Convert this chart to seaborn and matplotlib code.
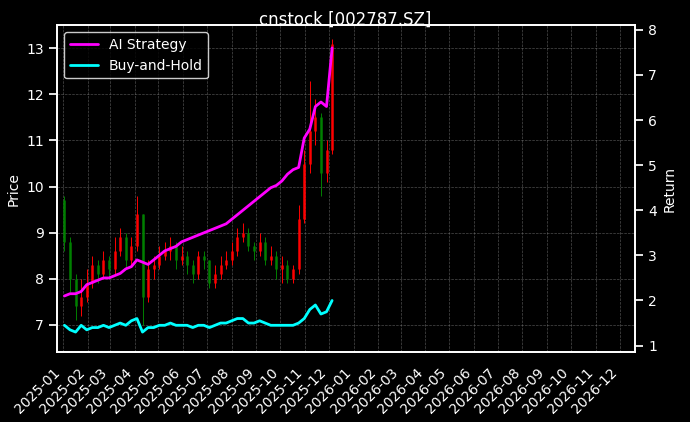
import matplotlib
matplotlib.use("Agg")
import matplotlib.pyplot as plt
import matplotlib.dates as mdates
import seaborn as sns
import pandas as pd

dates = pd.date_range("2025-01-03", periods=49, freq="W-FRI")
close = [8.8, 8.0, 7.4, 7.6, 7.9,
         8.3, 8.1, 8.4, 8.2,
         8.6, 8.9, 8.4, 8.7,
         9.4, 7.6, 8.2, 8.3,
         8.5, 8.6, 8.7, 8.4, 8.5,
         8.3, 8.1, 8.5, 8.4,
         7.9, 8.1, 8.3, 8.4,
         8.6, 8.9, 9.0, 8.7, 8.6,
         8.8, 8.4, 8.5, 8.2,
         8.3, 8.0, 8.2, 9.3, 10.5,
         11.2, 11.5, 10.3, 10.8,
         13.1]
first_open = 9.7
high = [9.8, 8.9, 8.1, 8.0, 8.2,
        8.5, 8.4, 8.6, 8.5,
        8.9, 9.1, 9.0, 8.9,
        9.8, 9.4, 8.4, 8.5,
        8.7, 8.8, 8.9, 8.8, 8.7,
        8.6, 8.4, 8.6, 8.6,
        8.4, 8.3, 8.5, 8.6,
        8.8, 9.1, 9.2, 9.1, 8.8,
        9.0, 8.9, 8.7, 8.6,
        8.5, 8.4, 8.3, 9.6, 10.8,
        12.3, 11.9, 11.6, 11.0,
        13.2]
low = [8.6, 7.7, 7.1, 7.2, 7.5,
       7.8, 7.9, 8.0, 8.0,
       8.1, 8.5, 8.2, 8.3,
       8.6, 7.0, 7.5, 8.0,
       8.2, 8.4, 8.4, 8.2, 8.3,
       8.1, 7.9, 8.0, 8.2,
       7.8, 7.8, 8.0, 8.2,
       8.3, 8.5, 8.8, 8.6, 8.4,
       8.5, 8.3, 8.3, 8.0,
       7.9, 7.9, 7.9, 8.1, 9.2,
       10.3, 10.9, 9.8, 10.1,
       10.7]
strategy = [2.1, 2.15, 2.15, 2.2, 2.35,
            2.4, 2.45, 2.5, 2.5,
            2.55, 2.6, 2.7, 2.75,
            2.9, 2.85, 2.8, 2.9,
            3.0, 3.1, 3.15, 3.2, 3.3,
            3.35, 3.4, 3.45, 3.5,
            3.55, 3.6, 3.65, 3.7,
            3.8, 3.9, 4.0, 4.1, 4.2,
            4.3, 4.4, 4.5, 4.55,
            4.65, 4.8, 4.9, 4.95, 5.6,
            5.8, 6.3, 6.4, 6.3,
            7.6]
buyhold = [1.45, 1.35, 1.3, 1.45, 1.35,
           1.4, 1.4, 1.45, 1.4,
           1.45, 1.5, 1.45, 1.55,
           1.6, 1.3, 1.4, 1.4,
           1.45, 1.45, 1.5, 1.45, 1.45,
           1.45, 1.4, 1.45, 1.45,
           1.4, 1.45, 1.5, 1.5,
           1.55, 1.6, 1.6, 1.5, 1.5,
           1.55, 1.5, 1.45, 1.45,
           1.45, 1.45, 1.45, 1.5, 1.6,
           1.8, 1.9, 1.7, 1.75,
           2.0]

opens = [first_open] + close[:-1]

sns.set_theme(style="dark", context="notebook", rc={"font.size": 10})
plt.style.use("dark_background")
plt.rcParams.update({"font.family": ["DejaVu Sans"], "font.size": 10,
                     "axes.labelsize": 10, "xtick.labelsize": 10,
                     "ytick.labelsize": 10, "legend.fontsize": 10})

fig, ax = plt.subplots(figsize=(6.9, 4.22), dpi=100)
fig.patch.set_facecolor("black")
ax.set_facecolor("black")
fig.subplots_adjust(left=0.083, right=0.92, top=0.94, bottom=0.165)

for d, o, c, h, l in zip(dates, opens, close, high, low):
    col = "red" if c >= o else "green"
    ax.vlines(d, l, h, color=col, linewidth=0.7)
    ax.vlines(d, min(o, c), max(o, c), color=col, linewidth=1.8)

ax.set_ylim(6.4, 13.5)
ax.set_xlim(pd.Timestamp("2024-12-25"), pd.Timestamp("2026-12-20"))
ax.set_ylabel("Price")
ax.grid(True, color="gray", linestyle="--", linewidth=0.5, alpha=0.6)

ax2 = ax.twinx()
df = pd.DataFrame({"date": dates, "AI Strategy": strategy, "Buy-and-Hold": buyhold})
sns.lineplot(data=df, x="date", y="AI Strategy", ax=ax2, color="magenta", linewidth=2, label="AI Strategy")
sns.lineplot(data=df, x="date", y="Buy-and-Hold", ax=ax2, color="cyan", linewidth=2, label="Buy-and-Hold")
ax2.set_ylim(0.85, 8.1)
ax2.set_ylabel("Return")
ax2.set_xlabel("")
ax2.grid(False)
ax.set_xlabel("")
ax2.legend(loc="upper left", facecolor="black", edgecolor="white")

ax.xaxis.set_major_locator(mdates.MonthLocator())
ax.xaxis.set_major_formatter(mdates.DateFormatter("%Y-%m"))
for lbl in ax.get_xticklabels():
    lbl.set_rotation(45)
    lbl.set_ha("right")

fig.suptitle("cnstock [002787.SZ]", fontsize=12, y=0.975)
fig.savefig("out.png", dpi=100, facecolor="black")
